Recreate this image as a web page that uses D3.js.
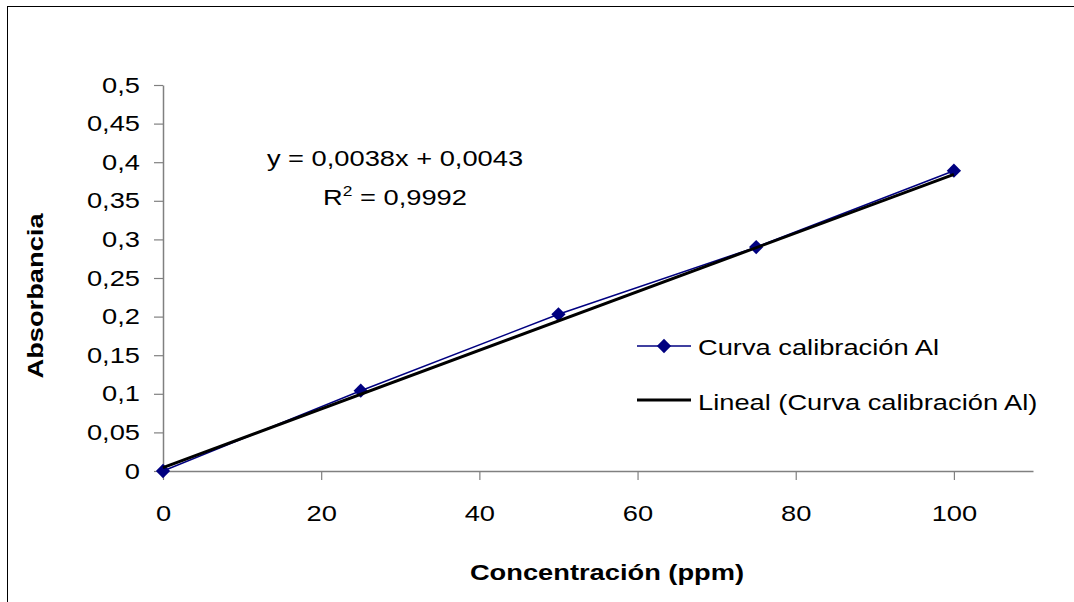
<!DOCTYPE html>
<html>
<head>
<meta charset="utf-8">
<script src="https://cdn.jsdelivr.net/npm/d3@7"></script>
<style>
  body { margin: 0; background: #fff; }
  svg text { font-family: "Liberation Sans", Arial, sans-serif; fill: #000; }
</style>
</head>
<body>
<div id="chart"></div>
<script>
// data
var concentracion = [0, 25, 50, 75, 100];
var absorbancia = [0, 0.104, 0.203, 0.29, 0.389];
var yTicks = [0, 0.05, 0.1, 0.15, 0.2, 0.25, 0.3, 0.35, 0.4, 0.45, 0.5];
var xTicks = [0, 20, 40, 60, 80, 100];
var slope = 0.0038, intercept = 0.0043;
var r2Value = "0,9992";
var seriesName = "Curva calibración Al";
var trendName = "Lineal (Curva calibración Al)";

var W = 1074, H = 602;
var margin = { top: 85, right: 41, bottom: 131, left: 163 },
  width = W - margin.left - margin.right,
  height = H - margin.top - margin.bottom;

// the original text is a bit wider than Arial, stretch it horizontally
var SX = 1.24;
var FS = "22px";

var fmt = function (d) { return String(d).replace(".", ","); };

function stretch(sel) {
  sel.each(function () {
    var t = d3.select(this);
    var tx = +t.attr("x") || 0, ty = +t.attr("y") || 0;
    var rot = t.attr("data-rot");
    t.attr("x", 0).attr("y", 0)
      .attr("transform", "translate(" + tx + "," + ty + ")" + (rot ? "rotate(" + rot + ")" : "") + "scale(" + SX + ",1)");
  });
}

var root = d3.select("#chart").append("svg")
  .attr("width", W).attr("height", H);

// chart border (cut off at right/bottom)
root.append("rect")
  .attr("x", 7.5).attr("y", 6.5)
  .attr("width", 1200).attr("height", 800)
  .style("fill", "none").style("stroke", "#000").style("stroke-width", 1);

var svg = root.append("g")
  .attr("transform", "translate(" + margin.left + "," + margin.top + ")");

var x = d3.scaleLinear().domain([0, 110]).range([0, width]);
var y = d3.scaleLinear().domain([0, 0.5]).range([height, 0]);

// axes
var xAxis = svg.append("g")
  .attr("transform", "translate(0," + height + ")")
  .call(d3.axisBottom(x).tickValues(xTicks).tickSize(9).tickSizeOuter(0).tickPadding(25).tickFormat(fmt));
var yAxis = svg.append("g")
  .call(d3.axisLeft(y).tickValues(yTicks).tickSize(9).tickSizeOuter(0).tickPadding(14).tickFormat(fmt));

[xAxis, yAxis].forEach(function (a) {
  a.selectAll(".domain").style("stroke", "#808080").style("stroke-width", 1.5);
  a.selectAll(".tick line").style("stroke", "#808080").style("stroke-width", 1.2);
  a.selectAll("text").style("font-size", FS).style("font-family", "Liberation Sans, Arial, sans-serif");
  stretch(a.selectAll("text"));
});

// series line
var pts = concentracion.map(function (c, i) { return { x: c, y: absorbancia[i] }; });
svg.append("path")
  .datum(pts)
  .attr("d", d3.line().x(function (d) { return x(d.x); }).y(function (d) { return y(d.y); }))
  .style("fill", "none").style("stroke", "#000080").style("stroke-width", 1.5);

var diamond = d3.symbol().type(d3.symbolDiamond2).size(130);
svg.selectAll(".pt").data(pts).enter().append("path")
  .attr("class", "pt")
  .attr("d", diamond)
  .attr("transform", function (d) { return "translate(" + x(d.x) + "," + y(d.y) + ")"; })
  .style("fill", "#000080");

// trend line
var trend = [0, 100].map(function (c) { return { x: c, y: slope * c + intercept }; });
svg.append("path")
  .datum(trend)
  .attr("d", d3.line().x(function (d) { return x(d.x); }).y(function (d) { return y(d.y); }))
  .style("fill", "none").style("stroke", "#000").style("stroke-width", 3);

// equation
var eq = root.append("g").style("font-size", FS);
eq.append("text").attr("x", 395).attr("y", 166).attr("text-anchor", "middle")
  .text("y = " + fmt(slope) + "x + " + fmt(intercept));
var r2 = eq.append("text").attr("x", 395).attr("y", 205).attr("text-anchor", "middle");
r2.append("tspan").text("R");
r2.append("tspan").attr("dy", -9).style("font-size", "14px").text("2");
r2.append("tspan").attr("dy", 9).text(" = " + r2Value);
stretch(eq.selectAll("text"));

// axis titles
var titles = root.append("g").style("font-size", FS).style("font-weight", "bold");
titles.append("text")
  .attr("x", 607).attr("y", 580).attr("text-anchor", "middle")
  .text("Concentración (ppm)");
titles.append("text")
  .attr("x", 43).attr("y", 296).attr("data-rot", -90)
  .attr("text-anchor", "middle")
  .text("Absorbancia");
stretch(titles.selectAll("text"));

// legend
var lg = root.append("g").style("font-size", FS);
lg.append("line").attr("x1", 637).attr("x2", 691).attr("y1", 346).attr("y2", 346)
  .style("stroke", "#000080").style("stroke-width", 1.5);
lg.append("path").attr("d", diamond)
  .attr("transform", "translate(664,346)").style("fill", "#000080");
lg.append("text").attr("x", 698).attr("y", 355).text(seriesName);
lg.append("line").attr("x1", 637).attr("x2", 691).attr("y1", 400).attr("y2", 400)
  .style("stroke", "#000").style("stroke-width", 3);
lg.append("text").attr("x", 698).attr("y", 410).text(trendName);
stretch(lg.selectAll("text"));
</script>
</body>
</html>
